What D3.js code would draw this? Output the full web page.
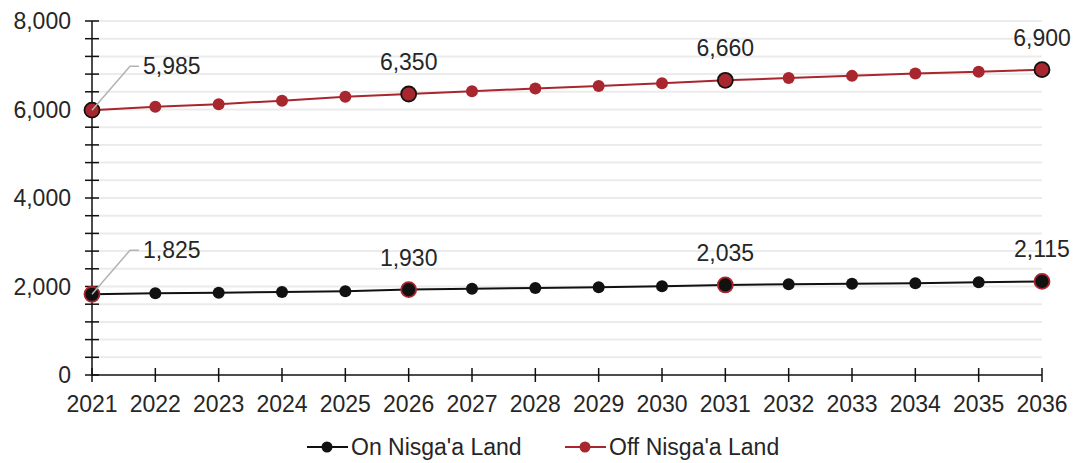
<!DOCTYPE html>
<html>
<head>
<meta charset="utf-8">
<script src="https://cdn.jsdelivr.net/npm/d3@7"></script>
<style>
  html, body { margin: 0; padding: 0; background: #fff; }
  svg { display: block; font-family: "Liberation Sans", Arial, sans-serif; }
</style>
</head>
<body>
<svg id="chart" width="1077" height="463"></svg>
<script>
// Population projection, 2021–2036
const years = [2021, 2022, 2023, 2024, 2025, 2026, 2027, 2028, 2029, 2030, 2031, 2032, 2033, 2034, 2035, 2036];
const onLand = [1825, 1845, 1860, 1875, 1895, 1930, 1950, 1965, 1985, 2005, 2035, 2050, 2060, 2075, 2095, 2115];
const offLand = [5985, 6060, 6120, 6200, 6290, 6350, 6415, 6475, 6530, 6595, 6660, 6710, 6760, 6815, 6855, 6900];
const seriesNames = ["On Nisga'a Land", "Off Nisga'a Land"];
const labelledYears = [2021, 2026, 2031, 2036];
const yTicks = [0, 2000, 4000, 6000, 8000];

const svg = d3.select("#chart");
const margin = { left: 92, right: 35, top: 21, bottom: 88 };
const W = 1077, H = 463;

const x = d3.scalePoint().domain(years).range([margin.left, W - margin.right]);
const y = d3.scaleLinear().domain([0, 8000]).range([H - margin.bottom, margin.top]);

const RED = "#a8262d", BLACK = "#111";
const TEXT = "#262626";
const fmt = d3.format(",");

// light horizontal gridlines every 400
const minor = d3.range(400, 8001, 400);
svg.append("g").selectAll("line").data(minor).join("line")
  .attr("x1", x(2021)).attr("x2", x(2036))
  .attr("y1", d => y(d)).attr("y2", d => y(d))
  .attr("stroke", "#ebebeb").attr("stroke-width", 2);

// y axis with crossing ticks
const yAxisG = svg.append("g").attr("transform", `translate(${margin.left},0)`);
yAxisG.append("line").attr("x1", 0).attr("x2", 0).attr("y1", y(0)).attr("y2", y(8000))
  .attr("stroke", "#111").attr("stroke-width", 1.5);
yAxisG.selectAll("line.t").data(d3.range(0, 8001, 400)).join("line").attr("class", "t")
  .attr("x1", -7).attr("x2", 7).attr("y1", d => y(d)).attr("y2", d => y(d))
  .attr("stroke", "#111").attr("stroke-width", 1.5);
yAxisG.selectAll("text").data(yTicks).join("text")
  .attr("x", -21).attr("y", d => y(d)).attr("dy", "0.35em")
  .attr("text-anchor", "end").attr("font-size", 23).attr("fill", TEXT)
  .text(d => fmt(d));

// x axis
const xAxisG = svg.append("g");
xAxisG.append("line").attr("x1", x(2021)).attr("x2", x(2036)).attr("y1", y(0)).attr("y2", y(0))
  .attr("stroke", "#111").attr("stroke-width", 1.5);
xAxisG.selectAll("line.t").data(years).join("line").attr("class", "t")
  .attr("x1", d => x(d)).attr("x2", d => x(d)).attr("y1", y(0) - 7).attr("y2", y(0) + 7)
  .attr("stroke", "#111").attr("stroke-width", 1.5);
xAxisG.selectAll("text").data(years).join("text")
  .attr("x", d => x(d)).attr("y", y(0) + 29).attr("dy", "0.35em")
  .attr("text-anchor", "middle").attr("font-size", 23).attr("fill", TEXT)
  .text(d => d);

// series
const series = [
  { name: seriesNames[0], values: onLand, color: BLACK, ring: RED },
  { name: seriesNames[1], values: offLand, color: RED, ring: BLACK }
];
const line = d3.line().x(d => x(d.year)).y(d => y(d.value));

series.forEach(s => {
  const pts = years.map((yr, i) => ({ year: yr, value: s.values[i] }));
  const g = svg.append("g");
  g.append("path").datum(pts).attr("d", line)
    .attr("fill", "none").attr("stroke", s.color).attr("stroke-width", 2);
  g.selectAll("circle.s").data(pts.filter(p => !labelledYears.includes(p.year))).join("circle")
    .attr("class", "s").attr("cx", d => x(d.year)).attr("cy", d => y(d.value)).attr("r", 6)
    .attr("fill", s.color);
  const big = pts.filter(p => labelledYears.includes(p.year));
  g.selectAll("circle.b").data(big).join("circle")
    .attr("class", "b").attr("cx", d => x(d.year)).attr("cy", d => y(d.value)).attr("r", 7.5)
    .attr("fill", s.color).attr("stroke", s.ring).attr("stroke-width", 1.8);

  // value labels
  big.forEach(p => {
    const px = x(p.year), py = y(p.value);
    if (p.year === 2021) {
      g.append("polyline")
        .attr("points", `${px},${py} ${px + 38},${py - 44} ${px + 47},${py - 44}`)
        .attr("fill", "none").attr("stroke", "#b3b3b3").attr("stroke-width", 1.5);
      g.append("text").attr("x", px + 51).attr("y", py - 44).attr("dy", "0.35em")
        .attr("font-size", 23).attr("fill", TEXT).text(fmt(p.value));
    } else {
      g.append("text").attr("x", px).attr("y", py - 32).attr("dy", "0.35em")
        .attr("text-anchor", "middle").attr("font-size", 23).attr("fill", TEXT)
        .text(fmt(p.value));
    }
  });
});

// legend
const legend = svg.append("g");
const legendX = [307, 565];
series.forEach((s, i) => {
  const lx = legendX[i], ly = 447;
  legend.append("line").attr("x1", lx).attr("x2", lx + 41).attr("y1", ly).attr("y2", ly)
    .attr("stroke", s.color).attr("stroke-width", 2);
  legend.append("circle").attr("cx", lx + 20).attr("cy", ly).attr("r", 5.5).attr("fill", s.color);
  legend.append("text").attr("x", lx + 44).attr("y", ly).attr("dy", "0.35em")
    .attr("font-size", 23).attr("fill", TEXT).text(s.name);
});
</script>
</body>
</html>
